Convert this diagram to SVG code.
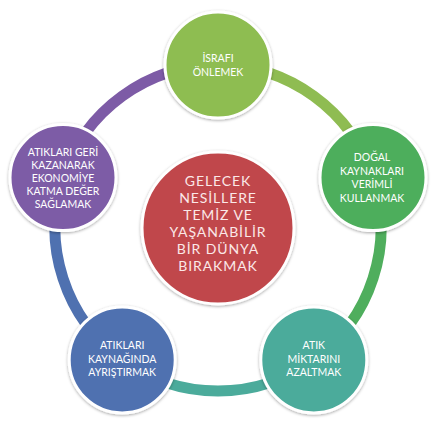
<svg xmlns="http://www.w3.org/2000/svg" width="439" height="425" viewBox="0 0 439 425">
  <defs>
    <filter id="sh" x="-20%" y="-20%" width="140%" height="140%">
      <feDropShadow dx="0" dy="1" stdDeviation="1.6" flood-color="#000" flood-opacity="0.35"/>
    </filter>
  </defs>
  <style>
    .arc { fill: none; stroke-width: 11; }
    .node { stroke: #ffffff; stroke-width: 3; filter: url(#sh); }
    .t { font-family: Lato, "Open Sans", "Liberation Sans", sans-serif; font-size: 10.5px; fill: #ffffff; text-anchor: middle; dominant-baseline: central; }
    .tc { font-family: Lato, "Open Sans", "Liberation Sans", sans-serif; font-size: 14px; letter-spacing: 0.9px; fill: #fbe8e8; text-anchor: middle; dominant-baseline: central; }
  </style>
  <rect width="439" height="425" fill="#ffffff"/>
  <g id="connectors">
    <path class="arc" stroke="#8fbc52" d="M218 65 A163 163 0 0 1 373.02 177.63"/>
    <path class="arc" stroke="#4fae5d" d="M373.02 177.63 A163 163 0 0 1 313.81 359.87"/>
    <path class="arc" stroke="#4bab9b" d="M313.81 359.87 A163 163 0 0 1 122.19 359.87"/>
    <path class="arc" stroke="#4f71b0" d="M122.19 359.87 A163 163 0 0 1 62.98 177.63"/>
    <path class="arc" stroke="#7d5ba6" d="M62.98 177.63 A163 163 0 0 1 218 65"/>
  </g>
  <g id="node-center">
    <circle class="node" cx="218" cy="228" r="76" fill="#c0474b"/>
    <text class="tc" x="218" y="180">GELECEK</text>
    <text class="tc" x="218" y="197">NESİLLERE</text>
    <text class="tc" x="218" y="214">TEMİZ VE</text>
    <text class="tc" x="218" y="231">YAŞANABİLİR</text>
    <text class="tc" x="218" y="248">BİR DÜNYA</text>
    <text class="tc" x="218" y="265">BIRAKMAK</text>
  </g>
  <g id="node-top">
    <circle class="node" cx="218" cy="65" r="53" fill="#8ebd51"/>
    <text class="t" x="218" y="58">İSRAFI</text>
    <text class="t" x="218" y="72">ÖNLEMEK</text>
  </g>
  <g id="node-right">
    <circle class="node" cx="373" cy="177.6" r="53" fill="#4eae5c"/>
    <text class="t" x="372" y="157">DOĞAL</text>
    <text class="t" x="372" y="170.5">KAYNAKLARI</text>
    <text class="t" x="372" y="184">VERİMLİ</text>
    <text class="t" x="372" y="197.5">KULLANMAK</text>
  </g>
  <g id="node-bottom-right">
    <circle class="node" cx="313.8" cy="359.9" r="53" fill="#4bab9b"/>
    <text class="t" x="313.8" y="345">ATIK</text>
    <text class="t" x="313.8" y="358.5">MİKTARINI</text>
    <text class="t" x="313.8" y="372">AZALTMAK</text>
  </g>
  <g id="node-bottom-left">
    <circle class="node" cx="122.2" cy="359.9" r="53" fill="#4f71b0"/>
    <text class="t" x="122.2" y="345">ATIKLARI</text>
    <text class="t" x="122.2" y="358.5">KAYNAĞINDA</text>
    <text class="t" x="122.2" y="372">AYRIŞTIRMAK</text>
  </g>
  <g id="node-left">
    <circle class="node" cx="63" cy="177.6" r="53" fill="#7d5ba6"/>
    <text class="t" x="63" y="152">ATIKLARI GERİ</text>
    <text class="t" x="63" y="165">KAZANARAK</text>
    <text class="t" x="63" y="178">EKONOMİYE</text>
    <text class="t" x="63" y="191">KATMA DEĞER</text>
    <text class="t" x="63" y="204">SAĞLAMAK</text>
  </g>
</svg>
